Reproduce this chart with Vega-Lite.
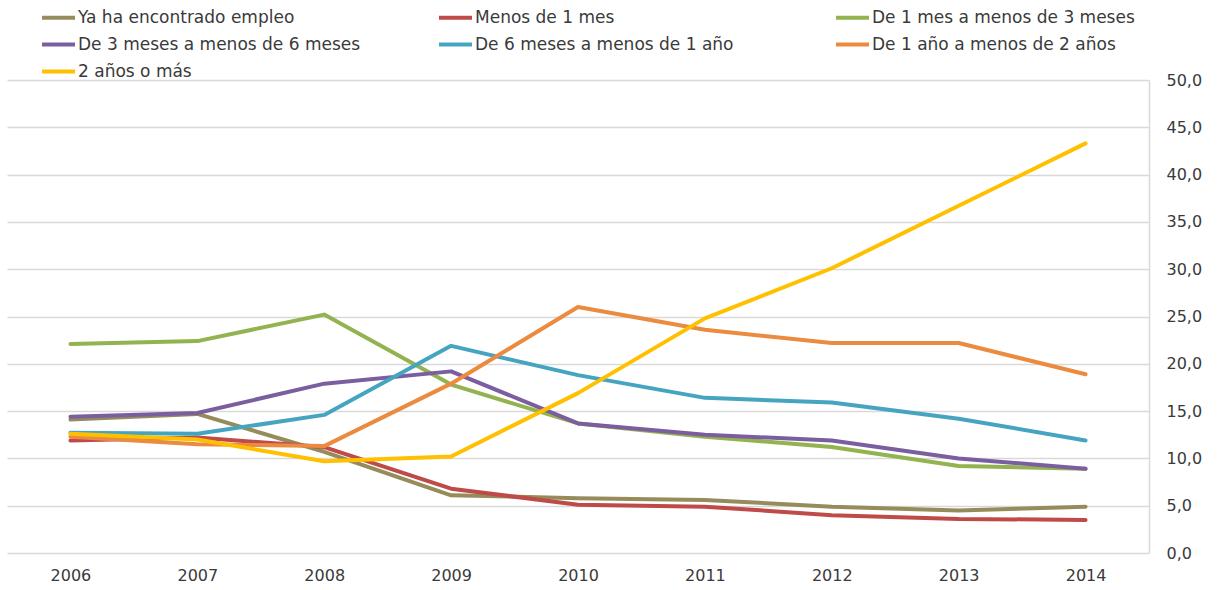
{
  "$schema": "https://vega.github.io/schema/vega-lite/v6.json",
  "width": 1142,
  "height": 473,
  "autosize": {"type": "none"},
  "padding": {"left": 7, "top": 80, "right": 70, "bottom": 37},
  "background": "white",
  "config": {
    "view": {"stroke": null},
    "font": "DejaVu Sans",
    "axis": {"labelFont": "DejaVu Sans", "labelFontSize": 16, "labelColor": "#3A3A3A"},
    "legend": {"labelFont": "DejaVu Sans", "labelFontSize": 17, "labelColor": "#3A3A3A"}
  },
  "data": {
    "values": [
      {"anio": "2006", "serie": "Ya ha encontrado empleo", "valor": 14.1},
      {"anio": "2007", "serie": "Ya ha encontrado empleo", "valor": 14.7},
      {"anio": "2008", "serie": "Ya ha encontrado empleo", "valor": 10.7},
      {"anio": "2009", "serie": "Ya ha encontrado empleo", "valor": 6.1},
      {"anio": "2010", "serie": "Ya ha encontrado empleo", "valor": 5.8},
      {"anio": "2011", "serie": "Ya ha encontrado empleo", "valor": 5.6},
      {"anio": "2012", "serie": "Ya ha encontrado empleo", "valor": 4.9},
      {"anio": "2013", "serie": "Ya ha encontrado empleo", "valor": 4.5},
      {"anio": "2014", "serie": "Ya ha encontrado empleo", "valor": 4.9},

      {"anio": "2006", "serie": "Menos de 1 mes", "valor": 11.9},
      {"anio": "2007", "serie": "Menos de 1 mes", "valor": 12.2},
      {"anio": "2008", "serie": "Menos de 1 mes", "valor": 11.2},
      {"anio": "2009", "serie": "Menos de 1 mes", "valor": 6.8},
      {"anio": "2010", "serie": "Menos de 1 mes", "valor": 5.1},
      {"anio": "2011", "serie": "Menos de 1 mes", "valor": 4.9},
      {"anio": "2012", "serie": "Menos de 1 mes", "valor": 4.0},
      {"anio": "2013", "serie": "Menos de 1 mes", "valor": 3.6},
      {"anio": "2014", "serie": "Menos de 1 mes", "valor": 3.5},

      {"anio": "2006", "serie": "De 1 mes a menos de 3 meses", "valor": 22.1},
      {"anio": "2007", "serie": "De 1 mes a menos de 3 meses", "valor": 22.4},
      {"anio": "2008", "serie": "De 1 mes a menos de 3 meses", "valor": 25.2},
      {"anio": "2009", "serie": "De 1 mes a menos de 3 meses", "valor": 17.8},
      {"anio": "2010", "serie": "De 1 mes a menos de 3 meses", "valor": 13.7},
      {"anio": "2011", "serie": "De 1 mes a menos de 3 meses", "valor": 12.3},
      {"anio": "2012", "serie": "De 1 mes a menos de 3 meses", "valor": 11.2},
      {"anio": "2013", "serie": "De 1 mes a menos de 3 meses", "valor": 9.2},
      {"anio": "2014", "serie": "De 1 mes a menos de 3 meses", "valor": 8.9},

      {"anio": "2006", "serie": "De 3 meses a menos de 6 meses", "valor": 14.4},
      {"anio": "2007", "serie": "De 3 meses a menos de 6 meses", "valor": 14.8},
      {"anio": "2008", "serie": "De 3 meses a menos de 6 meses", "valor": 17.9},
      {"anio": "2009", "serie": "De 3 meses a menos de 6 meses", "valor": 19.2},
      {"anio": "2010", "serie": "De 3 meses a menos de 6 meses", "valor": 13.7},
      {"anio": "2011", "serie": "De 3 meses a menos de 6 meses", "valor": 12.5},
      {"anio": "2012", "serie": "De 3 meses a menos de 6 meses", "valor": 11.9},
      {"anio": "2013", "serie": "De 3 meses a menos de 6 meses", "valor": 10.0},
      {"anio": "2014", "serie": "De 3 meses a menos de 6 meses", "valor": 8.9},

      {"anio": "2006", "serie": "De 6 meses a menos de 1 año", "valor": 12.7},
      {"anio": "2007", "serie": "De 6 meses a menos de 1 año", "valor": 12.6},
      {"anio": "2008", "serie": "De 6 meses a menos de 1 año", "valor": 14.6},
      {"anio": "2009", "serie": "De 6 meses a menos de 1 año", "valor": 21.9},
      {"anio": "2010", "serie": "De 6 meses a menos de 1 año", "valor": 18.8},
      {"anio": "2011", "serie": "De 6 meses a menos de 1 año", "valor": 16.4},
      {"anio": "2012", "serie": "De 6 meses a menos de 1 año", "valor": 15.9},
      {"anio": "2013", "serie": "De 6 meses a menos de 1 año", "valor": 14.2},
      {"anio": "2014", "serie": "De 6 meses a menos de 1 año", "valor": 11.9},

      {"anio": "2006", "serie": "De 1 año a menos de 2 años", "valor": 12.3},
      {"anio": "2007", "serie": "De 1 año a menos de 2 años", "valor": 11.5},
      {"anio": "2008", "serie": "De 1 año a menos de 2 años", "valor": 11.3},
      {"anio": "2009", "serie": "De 1 año a menos de 2 años", "valor": 17.9},
      {"anio": "2010", "serie": "De 1 año a menos de 2 años", "valor": 26.0},
      {"anio": "2011", "serie": "De 1 año a menos de 2 años", "valor": 23.6},
      {"anio": "2012", "serie": "De 1 año a menos de 2 años", "valor": 22.2},
      {"anio": "2013", "serie": "De 1 año a menos de 2 años", "valor": 22.2},
      {"anio": "2014", "serie": "De 1 año a menos de 2 años", "valor": 18.9},

      {"anio": "2006", "serie": "2 años o más", "valor": 12.6},
      {"anio": "2007", "serie": "2 años o más", "valor": 12.0},
      {"anio": "2008", "serie": "2 años o más", "valor": 9.7},
      {"anio": "2009", "serie": "2 años o más", "valor": 10.2},
      {"anio": "2010", "serie": "2 años o más", "valor": 16.9},
      {"anio": "2011", "serie": "2 años o más", "valor": 24.8},
      {"anio": "2012", "serie": "2 años o más", "valor": 30.1},
      {"anio": "2013", "serie": "2 años o más", "valor": 36.7},
      {"anio": "2014", "serie": "2 años o más", "valor": 43.3}
    ]
  },
  "mark": {"type": "line", "strokeWidth": 4, "strokeCap": "round", "strokeJoin": "round"},
  "encoding": {
    "x": {
      "field": "anio",
      "type": "ordinal",
      "scale": {"type": "point", "padding": 0.5},
      "axis": {
        "title": null,
        "domain": false,
        "ticks": false,
        "grid": false,
        "labelAngle": 0,
        "labelPadding": 14
      }
    },
    "y": {
      "field": "valor",
      "type": "quantitative",
      "scale": {"domain": [0, 50], "nice": false, "zero": true},
      "axis": {
        "title": null,
        "orient": "right",
        "values": [0, 5, 10, 15, 20, 25, 30, 35, 40, 45, 50],
        "labelExpr": "replace(format(datum.value, '.1f'), '.', ',')",
        "grid": true,
        "gridColor": "#D9D9D9",
        "gridWidth": 1.5,
        "domain": true,
        "domainColor": "#D9D9D9",
        "domainWidth": 1.5,
        "ticks": false,
        "labelPadding": 17
      }
    },
    "color": {
      "field": "serie",
      "type": "nominal",
      "sort": null,
      "scale": {
        "domain": [
          "Ya ha encontrado empleo",
          "Menos de 1 mes",
          "De 1 mes a menos de 3 meses",
          "De 3 meses a menos de 6 meses",
          "De 6 meses a menos de 1 año",
          "De 1 año a menos de 2 años",
          "2 años o más"
        ],
        "range": ["#968C5B", "#BE4B48", "#92B34F", "#7B5EA0", "#45A5C1", "#EB8B40", "#FFC000"]
      },
      "legend": {
        "title": null,
        "orient": "none",
        "legendX": 33,
        "legendY": -81,
        "direction": "horizontal",
        "columns": 3,
        "gridAlign": "all",
        "columnPadding": 70,
        "rowPadding": -7,
        "padding": 0,
        "symbolType": "stroke",
        "symbolSize": 1089,
        "symbolStrokeWidth": 4,
        "labelOffset": 1,
        "labelLimit": 400
      }
    }
  }
}
